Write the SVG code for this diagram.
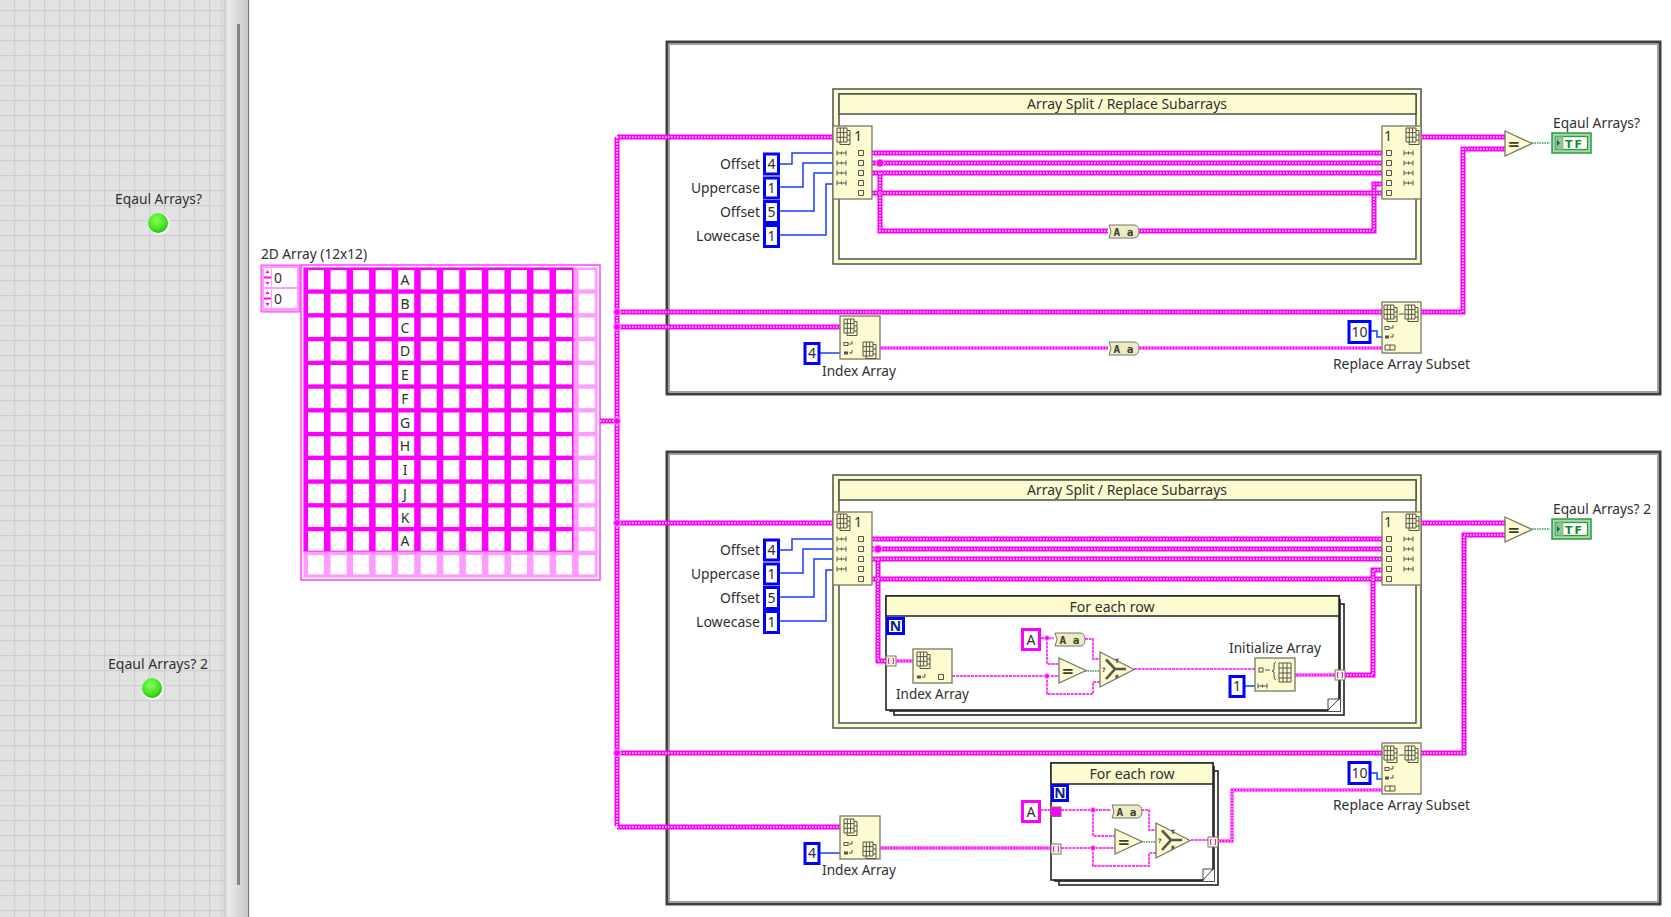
<svg xmlns="http://www.w3.org/2000/svg" xmlns:xlink="http://www.w3.org/1999/xlink" width="1671" height="917" viewBox="0 0 1671 917">
<style>
text{font-family:"Noto Sans","Open Sans","Liberation Sans",sans-serif;font-size:14px;fill:#303030}
.c{text-anchor:middle}.e{text-anchor:end}
.box{fill:#fdfbd0;stroke:#77776a;stroke-width:1.3}
.frame{fill:#fff;stroke:#404040;stroke-width:3}
.seq{fill:#fdfbd0;stroke:#505050;stroke-width:1.5}
.seqin{fill:#fff;stroke:#505050;stroke-width:1.5}
.title{fill:#fdfbd0;stroke:#505050;stroke-width:1.5}
.loop{fill:#fff;stroke:#222;stroke-width:1.6}
.num{fill:#fff;stroke:#0000ff;stroke-width:3}
.str{fill:#fff;stroke:#ff00ff;stroke-width:3}
.ic{fill:none;stroke:#55554a;stroke-width:1}
.w{fill:none;stroke-linejoin:miter}
.t1{stroke:#ff00ff;stroke-width:5}
.t2{stroke:#ffe4ff;stroke-width:1.7;stroke-dasharray:1.5 1.5}
.m1{stroke:#ff00ff;stroke-width:3}
.m2{stroke:#ffeeff;stroke-width:1.2;stroke-dasharray:1.6 1.4}
.s{stroke:#ff40ff;stroke-width:2;stroke-dasharray:3 .8}
.b{stroke:#1a3cff;stroke-width:1.5}
.g{stroke:#2f9a3c;stroke-width:1.5;stroke-dasharray:1.5 1}
.j{fill:#ff00ff;stroke:#ffa8ff;stroke-width:1}
.pin{fill:#fdfbd0;stroke:#77776a;stroke-width:1}
.cell{fill:#fff}
.fade{fill:#ff9cff}
.tf{font-family:"DejaVu Sans",sans-serif;font-weight:bold;font-size:11px;fill:#1c8a2c;letter-spacing:2px}
.eq{font-family:"DejaVu Sans",sans-serif;font-weight:bold;font-size:15px;fill:#3c3c30}
.aa{font-family:"DejaVu Sans Mono",monospace;font-weight:bold;font-size:11px;fill:#3c3c30}
.tiny{font-family:"DejaVu Sans",sans-serif;font-weight:bold;font-size:6px;fill:#3c3c30}
</style>
<defs>
<pattern id="grid" width="15" height="15" patternUnits="userSpaceOnUse" patternTransform="translate(14 10)">
<rect x="-1" y="-1" width="17" height="17" fill="#e2e2e2"/>
<path d="M0 -1V16M-1 0H16" stroke="#cfcfcf" stroke-width="2.4" fill="none"/>
</pattern>
<linearGradient id="sb" x1="0" x2="1" y1="0" y2="0"><stop offset="0" stop-color="#ececec"/><stop offset="1" stop-color="#c8c8c8"/></linearGradient>
<radialGradient id="led" cx=".42" cy=".35" r=".7"><stop offset="0" stop-color="#86ff5a"/><stop offset=".7" stop-color="#3fe020"/><stop offset="1" stop-color="#2aa818"/></radialGradient>
<g id="i2d">
<path class="ic" d="M0 0h10v14h-10zM3.3 0v14M6.6 0v14M0 4.6h10M0 9.3h10M10 2.5h3v14h-10v-2.500M13 7h-3M13 12h-3"/>
</g>
<g id="isp"><path class="ic" d="M0 -2.500v5M9 -2.500v5M0 0h9M4.500 -1.500v3"/></g>
<path id="isq" class="ic" style="fill:#fdfbd0" d="M-2.500 -2.500h5v5h-5z"/>
<g id="isx"><rect x="0" y="-1.500" width="4" height="3" fill="none" stroke="#55554a"/><path class="ic" d="M5 0h3M8 -3v3"/></g>
<g id="isy"><rect x="0" y="-1.500" width="4" height="3" fill="#55554a"/><path class="ic" d="M5 0h3M8 -3v3"/></g>
<g id="aanode"><path d="M1 0H26Q31 0 31 6.500Q31 13 26 13H1L3 6.500Z" fill="#ecebc4" stroke="#77776a"/><text class="aa" x="15.500" y="10.500" text-anchor="middle">A a</text></g>
<g id="eqnode"><path class="box" d="M0 0L27 12.500L0 25Z"/><text class="eq" x="2.500" y="17.500">=</text></g>
<g id="selnode"><path class="box" d="M0 0L34 17.500L0 35Z"/><path d="M6 7.500L15 17L6 27M15 17H26" fill="none" stroke="#55554a" stroke-width="2.600"/><text class="tiny" x="2" y="20">?</text><text class="tiny" x="15" y="11">T</text><text class="tiny" x="15" y="27">F</text></g>
<g id="tfind"><rect x="0" y="0" width="39" height="20" fill="#a5d6ad" stroke="#2f9a3c" stroke-width="1.5"/><rect x="3.500" y="3.500" width="32" height="13" fill="#fff" stroke="#2f9a3c" stroke-width="1.300"/><rect x="3.500" y="3.500" width="8" height="13" fill="#8cc597"/><path d="M5 7l3 3l-3 3z" fill="#2c5c34"/><text class="tf" x="13" y="14.500">TF</text></g>
<g id="tun"><rect x="0" y="0" width="10" height="10" class="pin"/><path d="M3.500 2.500H2.500V7.500H3.500M6.500 2.500H7.500V7.500H6.500" fill="none" stroke="#ff00ff" stroke-width="1"/></g>
</defs>

<g id="front-panel">
<rect x="0" y="0" width="227" height="917" fill="url(#grid)"/>
<rect x="220" y="0" width="7" height="917" fill="#cfcfcf" opacity=".35"/>
<rect x="227" y="0" width="21" height="917" fill="url(#sb)"/>
<rect x="248" y="0" width="1.200" height="917" fill="#787878"/>
<rect x="237" y="24" width="3" height="861" fill="#858585"/>
</g>
<g id="led1"><text class="c" x="158.500" y="204" textLength="87" lengthAdjust="spacingAndGlyphs">Eqaul Arrays?</text><circle cx="159" cy="224" r="11" fill="#f6f6f6"/><circle cx="158" cy="223" r="10" fill="url(#led)"/></g>
<g id="led2"><text class="c" x="158" y="669" textLength="100" lengthAdjust="spacingAndGlyphs">Eqaul Arrays? 2</text><circle cx="153" cy="689" r="11" fill="#f6f6f6"/><circle cx="152" cy="688" r="10" fill="url(#led)"/></g>

<g id="frame1"><rect class="frame" x="667" y="42" width="993" height="352"/><rect x="669.500" y="44.500" width="988" height="347" fill="none" stroke="#a0a0a0"/></g>
<g id="frame2"><rect class="frame" x="667" y="452" width="993" height="452"/><rect x="669.500" y="454.500" width="988" height="447" fill="none" stroke="#a0a0a0"/></g>

<g id="array2d">
<text x="261" y="259" textLength="106" lengthAdjust="spacingAndGlyphs">2D Array (12x12)</text>
<rect x="261" y="265" width="39" height="47" fill="#ff9cff" stroke="#ff40ff"/>
<rect x="272" y="268" width="25" height="19" fill="#fff"/><rect x="272" y="289" width="25" height="19" fill="#fff"/>
<rect x="264" y="268" width="7" height="19" fill="#fff"/><rect x="264" y="289" width="7" height="19" fill="#fff"/>
<path d="M264 277.500h7M264 298.500h7" stroke="#ff00ff" stroke-width="2"/>
<path d="M267.500 270l2 3h-4zM267.500 285l2 -3h-4zM267.500 291l2 3h-4zM267.500 306l2 -3h-4z" fill="#ff00ff"/>
<text x="274" y="283">0</text><text x="274" y="304">0</text>
<rect x="301" y="265" width="299" height="315" fill="#fff" stroke="#ff40ff" stroke-width="1.500"/>
<rect x="303.500" y="267.500" width="294" height="310" fill="#ff9cff"/>
<rect x="303.500" y="267.500" width="270" height="284" fill="#ff00ff"/>
<g id="cells" class="cell">
<rect x="308" y="270" width="16" height="19.400"/><rect x="330.550" y="270" width="16" height="19.400"/><rect x="353.100" y="270" width="16" height="19.400"/><rect x="375.650" y="270" width="16" height="19.400"/><rect x="398.200" y="270" width="16" height="19.400"/><rect x="420.750" y="270" width="16" height="19.400"/><rect x="443.300" y="270" width="16" height="19.400"/><rect x="465.850" y="270" width="16" height="19.400"/><rect x="488.400" y="270" width="16" height="19.400"/><rect x="510.950" y="270" width="16" height="19.400"/><rect x="533.500" y="270" width="16" height="19.400"/><rect x="556.050" y="270" width="16" height="19.400"/><rect x="578.600" y="270" width="16" height="19.400"/>
</g>
<use href="#cells" y="23.750"/><use href="#cells" y="47.500"/><use href="#cells" y="71.250"/><use href="#cells" y="95"/><use href="#cells" y="118.750"/><use href="#cells" y="142.500"/><use href="#cells" y="166.250"/><use href="#cells" y="190"/><use href="#cells" y="213.750"/><use href="#cells" y="237.500"/><use href="#cells" y="261.250"/><use href="#cells" y="285"/>
<g class="c"><text x="405" y="285">A</text><text x="405" y="309">B</text><text x="405" y="333">C</text><text x="405" y="356">D</text><text x="405" y="380">E</text><text x="405" y="404">F</text><text x="405" y="428">G</text><text x="405" y="451">H</text><text x="405" y="475">I</text><text x="405" y="499">J</text><text x="405" y="523">K</text><text x="405" y="546">A</text></g>
</g>

<g id="seq1"><rect class="seq" x="833" y="89" width="588" height="175"/><rect class="seqin" x="839" y="94" width="577" height="165"/><rect class="title" x="839" y="94" width="577" height="20"/><text class="c" x="1127" y="109" textLength="200" lengthAdjust="spacingAndGlyphs">Array Split / Replace Subarrays</text></g>
<g id="seq2"><rect class="seq" x="833" y="475" width="588" height="253"/><rect class="seqin" x="839" y="480" width="577" height="243"/><rect class="title" x="839" y="480" width="577" height="20"/><text class="c" x="1127" y="495" textLength="200" lengthAdjust="spacingAndGlyphs">Array Split / Replace Subarrays</text></g>

<g id="loop1"><rect class="loop" x="894" y="604" width="450" height="111"/><rect class="loop" x="890" y="600" width="450" height="111"/><rect class="loop" x="886" y="596" width="453" height="114"/><rect class="title" x="886" y="596" width="453" height="20" style="stroke:#222"/><text class="c" x="1112" y="612" textLength="85" lengthAdjust="spacingAndGlyphs">For each row</text><path d="M1328 711L1340 699V711Z" fill="#fff"/><path d="M1328 710L1339 699H1328Z" fill="#fff" stroke="#444"/></g>
<g id="loop2"><rect class="loop" x="1059" y="771" width="159" height="114"/><rect class="loop" x="1055" y="767" width="159" height="114"/><rect class="loop" x="1051" y="763" width="162" height="117"/><rect class="title" x="1051" y="763" width="162" height="21" style="stroke:#222"/><text class="c" x="1132" y="779" textLength="85" lengthAdjust="spacingAndGlyphs">For each row</text><path d="M1203 881L1214 869V881Z" fill="#fff"/><path d="M1203 880L1213 869H1203Z" fill="#fff" stroke="#444"/></g>

<g id="connectors" class="w">
<g class="t1"><g id="thick">
<path d="M600 421H617M617 137V826"/>
<path d="M617 137H833"/><path d="M617 312H1382"/><path d="M617 327H840"/>
<path d="M872 153H1382"/><path d="M872 163H1382"/><path d="M872 173H1382"/><path d="M872 193H1382"/>
<path d="M880 173V231H1108"/><path d="M1138 231H1374V184H1382"/>
<path d="M1421 137H1505"/><path d="M1421 312H1463V149H1505"/>
<path d="M617 523H833"/><path d="M617 753H1382"/><path d="M617 827H840"/>
<path d="M872 539H1382"/><path d="M872 549H1382"/><path d="M872 559H1382"/><path d="M872 579H1382"/>
<path d="M878 559V661H886"/><path d="M1344 675H1373V570H1382"/>
<path d="M1421 523H1505"/><path d="M1421 753H1464V535H1505"/>
</g></g>
<g class="t2"><use href="#thick"/></g>
<g class="m1"><g id="mid">
<path d="M880 348H1108"/><path d="M1138 348H1382"/>
<path d="M896 661H913"/><path d="M1295 675H1335"/>
<path d="M880 848H1051"/><path d="M1218 841H1232V790H1382"/>
</g></g>
<g class="m2"><use href="#mid"/></g>
<g class="s">
<path d="M952 676H1059"/><path d="M1041 638H1054"/><path d="M1047 638V664H1059"/><path d="M1085 639H1093V659H1100"/><path d="M1047 676V694H1093V682H1100"/><path d="M1134 669H1255"/>
<path d="M1040 810H1051"/><path d="M1061 810H1111"/><path d="M1093 810V836H1115"/><path d="M1141 810H1149V830H1156"/><path d="M1061 848H1115"/><path d="M1093 848V866H1149V853H1156"/><path d="M1191 840H1208"/>
</g>
<g class="b">
<path d="M779 164H792V153H833"/><path d="M779 187H803V163H833"/><path d="M779 211H814V173H833"/><path d="M779 235H826V184H833"/>
<path d="M779 550H792V539H833"/><path d="M779 573H803V549H833"/><path d="M779 597H814V559H833"/><path d="M779 621H826V570H833"/>
<path d="M820 353H840"/><path d="M820 853H840"/><path d="M1371 331H1377V337H1382"/><path d="M1371 773H1377V779H1382"/><path d="M1245 686H1255"/>
</g>
<g class="g"><path d="M1532 143H1550"/><path d="M1532 529H1550"/><path d="M1085 671H1100"/><path d="M1141 842H1156"/></g>
<g id="junctions" class="j">
<circle cx="617" cy="312" r="3.500"/><circle cx="617" cy="327" r="3.500"/><circle cx="617" cy="421" r="3.500"/><circle cx="617" cy="523" r="3.500"/><circle cx="617" cy="753" r="3.500"/>
<circle cx="880" cy="163" r="4"/><circle cx="878" cy="549" r="4"/>
<circle cx="1047" cy="638" r="2.500"/><circle cx="1047" cy="676" r="2.500"/><circle cx="1093" cy="810" r="2.500"/><circle cx="1093" cy="848" r="2.500"/>
</g>
</g>

<g id="split1" transform="translate(833 126)"><rect class="box" width="39" height="73"/><use href="#i2d" x="4" y="2"/><text x="21" y="15">1</text><use href="#isp" x="4" y="27"/><use href="#isp" x="4" y="37"/><use href="#isp" x="4" y="47"/><use href="#isp" x="4" y="57"/><use href="#isq" x="28" y="27"/><use href="#isq" x="28" y="37"/><use href="#isq" x="28" y="47"/><use href="#isq" x="28" y="57"/><use href="#isq" x="28" y="67"/></g>
<g id="replace1" transform="translate(1382 126)"><rect class="box" width="39" height="73"/><use href="#i2d" x="24" y="2"/><text x="2" y="15">1</text><use href="#isp" x="22" y="27"/><use href="#isp" x="22" y="37"/><use href="#isp" x="22" y="47"/><use href="#isp" x="22" y="57"/><use href="#isq" x="7" y="27"/><use href="#isq" x="7" y="37"/><use href="#isq" x="7" y="47"/><use href="#isq" x="7" y="57"/><use href="#isq" x="7" y="67"/></g>
<g id="split2" transform="translate(833 512)"><rect class="box" width="39" height="73"/><use href="#i2d" x="4" y="2"/><text x="21" y="15">1</text><use href="#isp" x="4" y="27"/><use href="#isp" x="4" y="37"/><use href="#isp" x="4" y="47"/><use href="#isp" x="4" y="57"/><use href="#isq" x="28" y="27"/><use href="#isq" x="28" y="37"/><use href="#isq" x="28" y="47"/><use href="#isq" x="28" y="57"/><use href="#isq" x="28" y="67"/></g>
<g id="replace2" transform="translate(1382 512)"><rect class="box" width="39" height="73"/><use href="#i2d" x="24" y="2"/><text x="2" y="15">1</text><use href="#isp" x="22" y="27"/><use href="#isp" x="22" y="37"/><use href="#isp" x="22" y="47"/><use href="#isp" x="22" y="57"/><use href="#isq" x="7" y="27"/><use href="#isq" x="7" y="37"/><use href="#isq" x="7" y="47"/><use href="#isq" x="7" y="57"/><use href="#isq" x="7" y="67"/></g>

<g id="constants1">
<rect class="num" x="764.500" y="154" width="14" height="20"/><text class="c" x="771.500" y="169">4</text><text class="e" x="760" y="169" textLength="40" lengthAdjust="spacingAndGlyphs">Offset</text>
<rect class="num" x="764.500" y="178" width="14" height="20"/><text class="c" x="771.500" y="193">1</text><text class="e" x="760" y="193" textLength="69" lengthAdjust="spacingAndGlyphs">Uppercase</text>
<rect class="num" x="764.500" y="201.500" width="14" height="21"/><text class="c" x="771.500" y="217">5</text><text class="e" x="760" y="217" textLength="40" lengthAdjust="spacingAndGlyphs">Offset</text>
<rect class="num" x="764.500" y="225.500" width="14" height="21"/><text class="c" x="771.500" y="241">1</text><text class="e" x="760" y="241" textLength="64" lengthAdjust="spacingAndGlyphs">Lowecase</text>
</g>
<g id="constants2">
<rect class="num" x="764.500" y="540" width="14" height="20"/><text class="c" x="771.500" y="555">4</text><text class="e" x="760" y="555" textLength="40" lengthAdjust="spacingAndGlyphs">Offset</text>
<rect class="num" x="764.500" y="564" width="14" height="20"/><text class="c" x="771.500" y="579">1</text><text class="e" x="760" y="579" textLength="69" lengthAdjust="spacingAndGlyphs">Uppercase</text>
<rect class="num" x="764.500" y="587.500" width="14" height="21"/><text class="c" x="771.500" y="603">5</text><text class="e" x="760" y="603" textLength="40" lengthAdjust="spacingAndGlyphs">Offset</text>
<rect class="num" x="764.500" y="611.500" width="14" height="21"/><text class="c" x="771.500" y="627">1</text><text class="e" x="760" y="627" textLength="64" lengthAdjust="spacingAndGlyphs">Lowecase</text>
</g>

<g id="index1"><rect class="box" x="840" y="316" width="40" height="43"/><use href="#i2d" x="844" y="319"/><use href="#isx" x="844" y="344"/><use href="#isy" x="844" y="353"/><use href="#i2d" x="863" y="342"/><rect class="num" x="805" y="343.500" width="14" height="20"/><text class="c" x="812" y="358">4</text><text class="c" x="859" y="376" textLength="74" lengthAdjust="spacingAndGlyphs">Index Array</text></g>
<g id="index2"><rect class="box" x="840" y="816" width="40" height="43"/><use href="#i2d" x="844" y="819"/><use href="#isx" x="844" y="844"/><use href="#isy" x="844" y="853"/><use href="#i2d" x="863" y="842"/><rect class="num" x="805" y="843.500" width="14" height="20"/><text class="c" x="812" y="858">4</text><text class="c" x="859" y="875" textLength="74" lengthAdjust="spacingAndGlyphs">Index Array</text></g>

<g id="rep1"><rect class="box" x="1382" y="302" width="39" height="51"/><use href="#i2d" x="1384" y="305"/><use href="#i2d" x="1405" y="305"/><path class="ic" d="M1399 314h5"/><use href="#isx" x="1385" y="328"/><use href="#isy" x="1385" y="337"/><path class="ic" d="M1385 345h10v5h-10zM1390 345v5"/><rect class="num" x="1349" y="321.500" width="21" height="21"/><text class="c" x="1359.500" y="337">10</text><text class="c" x="1401.500" y="369" textLength="137" lengthAdjust="spacingAndGlyphs">Replace Array Subset</text></g>
<g id="rep2"><rect class="box" x="1382" y="743" width="39" height="51"/><use href="#i2d" x="1384" y="746"/><use href="#i2d" x="1405" y="746"/><path class="ic" d="M1399 755h5"/><use href="#isx" x="1385" y="769"/><use href="#isy" x="1385" y="778"/><path class="ic" d="M1385 786h10v5h-10zM1390 786v5"/><rect class="num" x="1349" y="762.500" width="21" height="21"/><text class="c" x="1359.500" y="778">10</text><text class="c" x="1401.500" y="810" textLength="137" lengthAdjust="spacingAndGlyphs">Replace Array Subset</text></g>

<use id="aa1" href="#aanode" x="1108" y="225"/>
<use id="aa2" href="#aanode" x="1108" y="342"/>
<use id="aa3" href="#aanode" x="1054" y="633"/>
<use id="aa4" href="#aanode" x="1111" y="805"/>
<use id="eq1" href="#eqnode" x="1505" y="131"/>
<use id="eq2" href="#eqnode" x="1505" y="517"/>
<use id="eq3" href="#eqnode" x="1059" y="658"/>
<use id="eq4" href="#eqnode" x="1115" y="829"/>
<use id="sel1" href="#selnode" x="1100" y="652"/>
<use id="sel2" href="#selnode" x="1156" y="823"/>
<g id="ind1"><use href="#tfind" x="1552" y="133"/><text x="1553" y="128" textLength="87" lengthAdjust="spacingAndGlyphs">Eqaul Arrays?</text></g>
<g id="ind2"><use href="#tfind" x="1552" y="519"/><text x="1553" y="514" textLength="98" lengthAdjust="spacingAndGlyphs">Eqaul Arrays? 2</text></g>

<g id="loop1-parts">
<rect class="num" x="887.500" y="618.500" width="16" height="15"/><text class="c" x="895.500" y="631" style="font-weight:bold;fill:#10208c">N</text>
<use href="#tun" x="886" y="656"/><use href="#tun" x="1335" y="670"/>
<rect class="box" x="913" y="649" width="39" height="34"/><use href="#i2d" x="917" y="652"/><use href="#isy" x="917" y="677"/><use href="#isq" x="941" y="677"/><text class="c" x="932.500" y="699" textLength="73" lengthAdjust="spacingAndGlyphs">Index Array</text>
<rect class="str" x="1022.500" y="629.500" width="17" height="20"/><text class="c" x="1031" y="645">A</text>
<rect class="box" x="1255" y="658" width="40" height="33"/><rect x="1259" y="668" width="4" height="4" fill="none" stroke="#55554a"/><path class="ic" d="M1265 670h5M1276 662q-2 0 -2 4v4l-2 1l2 1v4q0 4 2 4"/><path class="ic" d="M1279 663h12v19h-12zM1283 663v19M1287 663v19M1279 668h12M1279 673h12M1279 678h12"/><use href="#isp" x="1258" y="686"/><rect class="num" x="1230" y="676.500" width="14" height="20"/><text class="c" x="1237" y="691">1</text><text class="c" x="1275" y="653" textLength="92" lengthAdjust="spacingAndGlyphs">Initialize Array</text>
</g>
<g id="loop2-parts">
<rect class="num" x="1052.500" y="785.500" width="15" height="15"/><text class="c" x="1060" y="798" style="font-weight:bold;fill:#10208c">N</text>
<rect x="1051" y="807" width="10" height="9.500" fill="#ff00ff" stroke="#77776a"/><use href="#tun" x="1051" y="844"/><use href="#tun" x="1208" y="837"/>
<rect class="str" x="1022.500" y="801.500" width="17" height="20"/><text class="c" x="1031" y="817">A</text>
</g>
</svg>
